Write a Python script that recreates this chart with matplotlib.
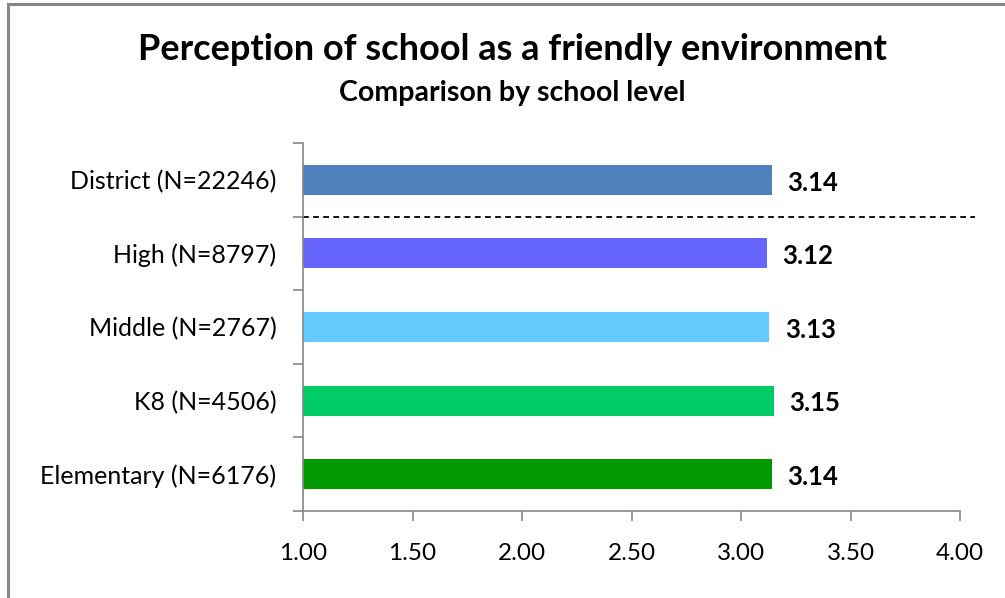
import matplotlib
matplotlib.use("Agg")
import matplotlib.pyplot as plt
from matplotlib.patches import Rectangle
from matplotlib.ticker import FixedLocator, FormatStrFormatter

plt.rcParams['font.family'] = ['Lato', 'DejaVu Sans']

categories = ["Elementary (N=6176)", "K8 (N=4506)", "Middle (N=2767)",
              "High (N=8797)", "District (N=22246)"]
values = [3.14, 3.15, 3.13, 3.12, 3.14]
colors = ["#009900", "#00CC66", "#66CCFF", "#6666FF", "#4F81BD"]
xticks = [1.0, 1.5, 2.0, 2.5, 3.0, 3.5, 4.0]

title = "Perception of school as a friendly environment"
subtitle = "Comparison by school level"

fig = plt.figure(figsize=(10.05, 5.98), dpi=100)
fig.patch.set_facecolor("white")

# outer chart frame
fig.add_artist(Rectangle((8/1005, -0.05), 1.1, 1 - 3.5/598 + 0.05,
                         transform=fig.transFigure, fill=False,
                         edgecolor="#868686", linewidth=2.2))

ax = fig.add_axes([303/1005, 1 - 511/598, (960-303)/1005, (511-143)/598])
y = list(range(len(categories)))
ax.barh(y, [v - 1.0 for v in values], left=1.0, height=0.41, color=colors)

ax.set_xlim(1.0, 4.0)
ax.set_ylim(-0.5, len(categories) - 0.5)

for s in ["top", "right"]:
    ax.spines[s].set_visible(False)
for s in ["left", "bottom"]:
    ax.spines[s].set_color("#868686")
    ax.spines[s].set_linewidth(1.2)

ax.set_xticks(xticks)
ax.xaxis.set_major_formatter(FormatStrFormatter("%.2f"))
ax.tick_params(axis="x", direction="out", length=7, width=1.2, color="#868686",
               labelsize=17.5, pad=16, labelcolor="black")

ax.set_yticks(y)
ax.set_yticklabels(categories)
ax.yaxis.set_minor_locator(FixedLocator([i - 0.5 for i in range(len(categories) + 1)]))
ax.tick_params(axis="y", which="major", length=0, labelsize=18, pad=19)
ax.tick_params(axis="y", which="minor", direction="out", length=7, width=1.2,
               color="#868686")

# value labels
for yi, v in zip(y, values):
    ax.annotate(f"{v:.2f}", xy=(v, yi), xytext=(11, -2), textcoords="offset points",
                ha="left", va="center", fontsize=18.5, fontweight="bold")

# separator between District and school levels
ax.plot([1.0, 4.07], [3.5, 3.5], linestyle=(0, (3.2, 2.4)), color="black",
        linewidth=1.3, clip_on=False)

fig.text(0.5095, 1 - 49/598, title, ha="center", va="center", fontsize=26,
         fontweight="bold")
fig.text(0.5095, 1 - 93/598, subtitle, ha="center", va="center", fontsize=20.5,
         fontweight="bold")

fig.savefig("out.png", dpi=100)
